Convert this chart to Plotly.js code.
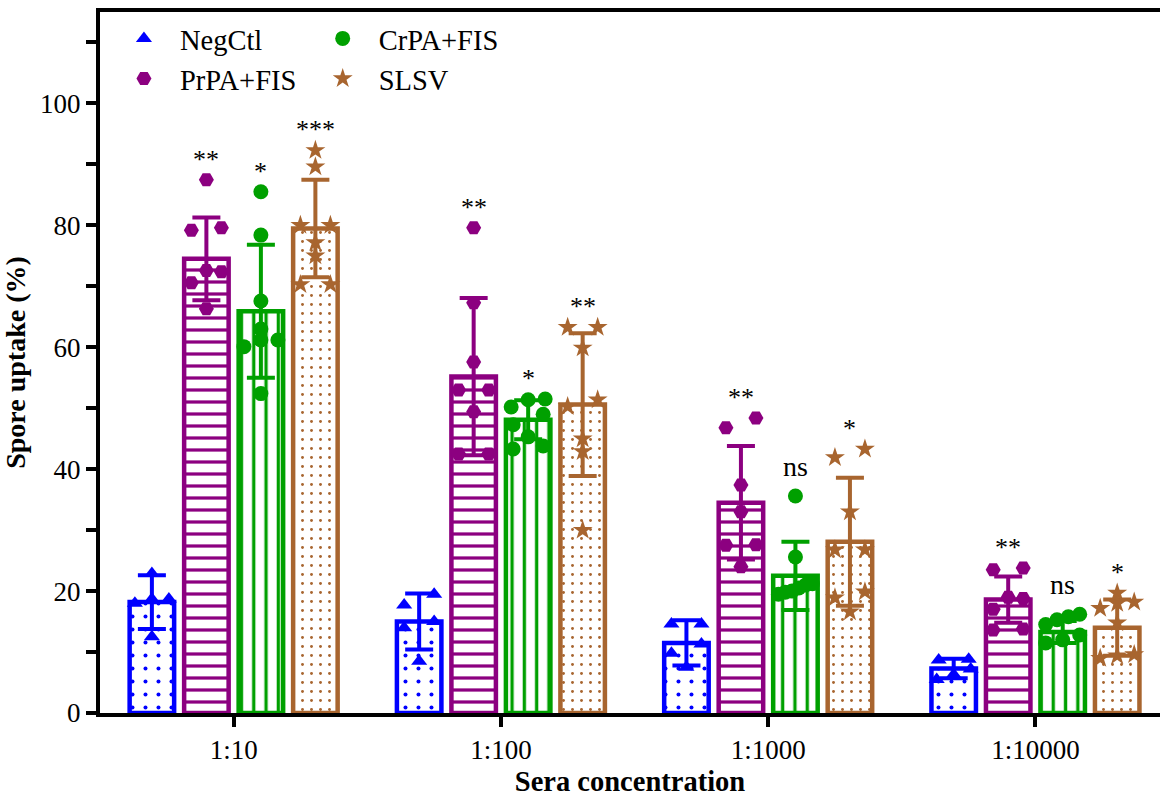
<!DOCTYPE html>
<html><head><meta charset="utf-8">
<script src="https://cdn.plot.ly/plotly-3.0.1.min.js"></script>
<style>html,body{margin:0;padding:0;background:#fff;}#chart{width:1160px;height:797px;}</style>
</head><body><div id="chart"></div>
<script>
// ---------- data ----------
const categories = ['1:10', '1:100', '1:1000', '1:10000'];
const seriesNames = ['NegCtl', 'PrPA+FIS', 'CrPA+FIS', 'SLSV'];

const negCtlMean = [18.2, 15.0, 11.5, 7.3];
const negCtlSD   = [4.4, 4.6, 3.7, 1.6];
const prpaMean   = [74.5, 55.2, 34.5, 18.6];
const prpaSD     = [6.8, 12.9, 9.3, 3.8];
const crpaMean   = [65.9, 48.1, 22.5, 13.3];
const crpaSD     = [10.9, 3.2, 5.6, 1.8];
const slsvMean   = [79.5, 50.6, 28.1, 14.0];
const slsvSD     = [8.0, 11.7, 10.5, 4.6];

const negCtlPoints = [
  [22.9, 18.7, 18.7, 18.0, 12.5],
  [19.5, 17.7, 15.0, 14.0, 8.5],
  [14.6, 14.6, 11.3, 9.8, 7.5],
  [8.8, 8.7, 7.2, 6.3, 5.5]
];
const prpaPoints = [
  [87.5, 79.6, 79.2, 72.6, 72.4, 70.6, 66.3],
  [79.6, 67.3, 57.6, 53.0, 53.0, 49.4, 42.5, 42.5],
  [48.4, 46.8, 37.4, 33.0, 27.6, 27.5, 24.0],
  [23.8, 23.5, 19.0, 18.8, 17.0, 13.8, 13.6]
];
const crpaPoints = [
  [85.5, 78.4, 67.6, 63.0, 61.2, 61.2, 60.1, 52.4],
  [51.5, 51.4, 50.2, 49.0, 47.3, 45.3, 43.8, 43.3],
  [35.6, 25.6, 21.2, 21.0, 20.5, 20.0, 19.8, 19.5],
  [16.2, 15.8, 15.3, 14.5, 12.8, 12.0, 11.5]
];
const slsvPoints = [
  [92.3, 89.6, 80.0, 80.0, 77.2, 75.0, 70.3, 70.3],
  [63.3, 63.3, 59.9, 51.4, 50.3, 45.0, 42.9, 30.0],
  [43.3, 41.9, 33.0, 26.8, 26.8, 19.9, 18.9, 16.6],
  [19.7, 18.2, 18.0, 17.2, 14.8, 9.6, 9.4, 9.0]
];

const negCtlSig = ['', '', '', ''];
const prpaSig   = ['**', '**', '**', '**'];
const crpaSig   = ['*', '*', 'ns', 'ns'];
const slsvSig   = ['***', '**', '*', '*'];

const yTickVals = [0, 20, 40, 60, 80, 100];
const yMinorVals = [10, 30, 50, 70, 90, 110];

// ---------- styling / layout ----------
const FONT = "'Liberation Serif', 'Times New Roman', serif";
const W = 1160, H = 797;
const M = {l: 100, r: 0, t: 12, b: 84};
const xRange = [-0.5, 3.466];
const yRange = [0, 115];
const plotW = W - M.l - M.r, plotH = H - M.t - M.b;
const pxX = plotW / (xRange[1] - xRange[0]);
const pxY = plotH / (yRange[1] - yRange[0]);

const slot = 54.5 / pxX;
const barW = 44.5 / pxX;

const series = [
  {name: seriesNames[0], mean: negCtlMean, sd: negCtlSD, pts: negCtlPoints, sig: negCtlSig,
   color: '#0000FF', symbol: 'triangle-up', msize: 14, pattern: {shape: '.', size: 13, solidity: 0.075}, legend: 'legend'},
  {name: seriesNames[1], mean: prpaMean, sd: prpaSD, pts: prpaPoints, sig: prpaSig,
   color: '#8C0080', symbol: 'hexagon2', msize: 15, pattern: {shape: '-', size: 12, solidity: 0.27}, legend: 'legend'},
  {name: seriesNames[2], mean: crpaMean, sd: crpaSD, pts: crpaPoints, sig: crpaSig,
   color: '#00A000', symbol: 'circle', msize: 15, pattern: {shape: '|', size: 12.3, solidity: 0.27}, legend: 'legend2'},
  {name: seriesNames[3], mean: slsvMean, sd: slsvSD, pts: slsvPoints, sig: slsvSig,
   color: '#A8652F', symbol: 'star', msize: 15, pattern: {shape: '.', size: 9, solidity: 0.08}, legend: 'legend2'}
];

function jitter(vals) {
  const idx = vals.map((v, i) => i).sort((a, b) => vals[a] - vals[b]);
  const out = new Array(vals.length).fill(0);
  let cl = [];
  const flush = () => {
    const n = cl.length;
    const d = n > 1 ? Math.min(30, 34 / (n - 1)) : 0;
    cl.forEach((id, j) => { out[id] = (j - (n - 1) / 2) * d; });
    cl = [];
  };
  idx.forEach(id => {
    if (cl.length && (vals[id] - vals[cl[0]]) * pxY > 11) flush();
    cl.push(id);
  });
  flush();
  return out;
}

const traces = [];
const annotations = [];
series.forEach((s, k) => {
  const off = (k - 1.5) * slot;
  const xs = categories.map((c, i) => i + off);
  traces.push({
    type: 'bar', x: xs, y: s.mean, width: barW, showlegend: false, hoverinfo: 'skip',
    marker: {color: 'white', line: {color: s.color, width: 4.5},
             pattern: Object.assign({fgcolor: s.color, bgcolor: 'white', fillmode: 'replace'}, s.pattern)},
    error_y: {type: 'data', array: s.sd, visible: true, color: s.color, thickness: 4, width: 14}
  });
});
series.forEach((s, k) => {
  const off = (k - 1.5) * slot;
  const px = [], py = [];
  s.pts.forEach((arr, i) => {
    const j = jitter(arr);
    arr.forEach((v, n) => { px.push(i + off + j[n] / pxX); py.push(v); });
    if (s.sig[i]) {
      annotations.push({
        x: i + off, y: Math.max(...arr), xref: 'x', yref: 'y', text: s.sig[i], showarrow: false,
        yanchor: 'bottom', yshift: s.sig[i] === 'ns' ? 12 : 4,
        font: {family: FONT, size: s.sig[i] === 'ns' ? 28 : 26, color: 'black'}
      });
    }
  });
  traces.push({
    type: 'scatter', mode: 'markers', x: px, y: py, name: s.name, legend: s.legend, legendgroup: s.name,
    marker: {symbol: s.symbol, size: s.msize, color: s.color, line: {width: 0}}
  });
});

const legendBase = {
  xanchor: 'left', yanchor: 'top', y: 0.998, bgcolor: 'rgba(0,0,0,0)',
  font: {family: FONT, size: 28.5, color: 'black'}, itemwidth: 62, tracegroupgap: 0
};

const layout = {
  width: W, height: H, margin: Object.assign({autoexpand: false}, M),
  paper_bgcolor: 'white', plot_bgcolor: 'white', barmode: 'overlay', showlegend: true,
  xaxis: {
    range: xRange, tickvals: categories.map((c, i) => i), ticktext: categories,
    showline: true, linewidth: 4, linecolor: 'black', mirror: true, showgrid: false, zeroline: false,
    ticks: 'outside', ticklen: 10, tickwidth: 4, tickcolor: 'black',
    tickfont: {family: FONT, size: 27, color: 'black'},
    title: {text: '<b>Sera concentration</b>', font: {family: FONT, size: 28.5, color: 'black'}, standoff: 8}
  },
  yaxis: {
    range: yRange, tickvals: yTickVals, showline: true, linewidth: 4, linecolor: 'black',
    showgrid: false, zeroline: false, ticks: 'outside', ticklen: 10, tickwidth: 4, tickcolor: 'black',
    tickfont: {family: FONT, size: 27, color: 'black'},
    minor: {tickvals: yMinorVals, ticks: 'outside', ticklen: 10, tickwidth: 4, tickcolor: 'black', showgrid: false},
    title: {text: '<b>Spore uptake (%)</b>', font: {family: FONT, size: 28, color: 'black'}, standoff: 10}
  },
  legend: Object.assign({x: 0.0075}, legendBase),
  legend2: Object.assign({x: 0.195}, legendBase),
  annotations: annotations
};

Plotly.newPlot('chart', traces, layout, {displayModeBar: false, staticPlot: true});
</script>
</body></html>
